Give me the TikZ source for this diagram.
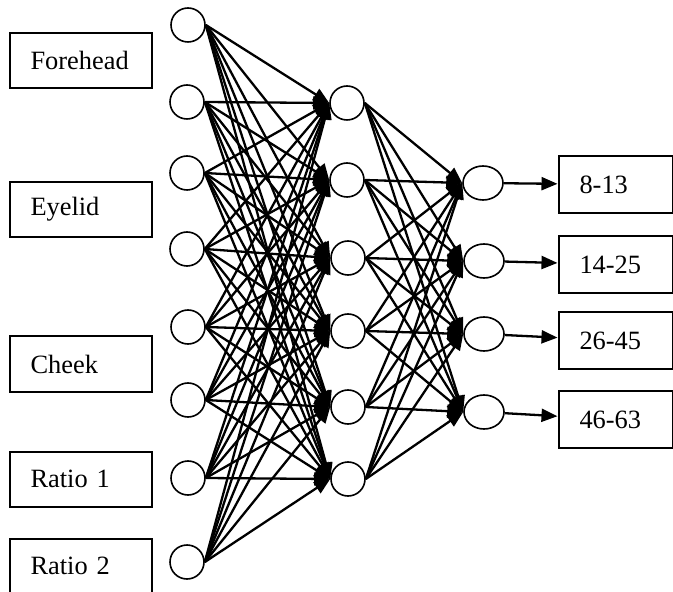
\documentclass[tikz,border=0pt]{standalone}
\usepackage{fontspec}
\setmainfont{Liberation Serif}
\usetikzlibrary{arrows.meta,shapes.geometric}
\tikzset{
  unit/.style={draw,circle,line width=0.8pt,minimum size=17pt,inner sep=0pt},
  outunit/.style={draw,ellipse,line width=0.8pt,minimum width=20pt,minimum height=17pt,inner sep=0pt},
  featbox/.style={draw,line width=1pt,text width=50pt,inner xsep=10.5pt,align=left,minimum height=27.5pt},
  agebox/.style={draw,line width=1pt,text width=36pt,inner xsep=10.5pt,align=left,minimum height=28.5pt},
  link/.style={line width=1.15pt,-{Triangle[length=8pt,width=6.5pt]}}
}
\begin{document}
\begin{tikzpicture}[x=0.5pt,y=-0.5pt,font=\fontsize{13.2}{15}\selectfont]
\useasboundingbox (0,0) rectangle (673,592);
\node[featbox] (forehead) at (80.5,60.5) {Forehead};
\node[featbox] (eyelid) at (80.5,209.5) {Eyelid};
\node[featbox] (cheek) at (80.5,364) {Cheek};
\node[featbox] (ratioa) at (80.5,479) {Ratio 1};
\node[featbox] (ratiob) at (80.5,566) {Ratio 2};
\node[unit] (in1) at (188,25) {};
\node[unit] (in2) at (187,102) {};
\node[unit] (in3) at (187,173) {};
\node[unit] (in4) at (187,249) {};
\node[unit] (in5) at (188,327) {};
\node[unit] (in6) at (188,400) {};
\node[unit] (in7) at (188,478) {};
\node[unit] (in8) at (187,562) {};
\node[unit] (hid1) at (347,103) {};
\node[unit] (hid2) at (347,180) {};
\node[unit] (hid3) at (348,258) {};
\node[unit] (hid4) at (348,331) {};
\node[unit] (hid5) at (348,407) {};
\node[unit] (hid6) at (348,479) {};
\node[outunit] (out1) at (483,183) {};
\node[outunit] (out2) at (484,261) {};
\node[outunit] (out3) at (484,334) {};
\node[outunit] (out4) at (484,412) {};
\node[agebox] (age1) at (615.5,184.5) {8-13};
\node[agebox] (age2) at (615.5,264.5) {14-25};
\node[agebox] (age3) at (615.5,340.5) {26-45};
\node[agebox] (age4) at (615.5,419.5) {46-63};
\foreach \i in {1,...,8}
  \foreach \j in {1,...,6}
    \draw[link] (in\i.east) -- (hid\j.west);
\foreach \j in {1,...,6}
  \foreach \k in {1,...,4}
    \draw[link] (hid\j.east) -- (out\k.west);
\foreach \k in {1,...,4}
  \draw[link] (out\k) -- (age\k);
\end{tikzpicture}
\end{document}
